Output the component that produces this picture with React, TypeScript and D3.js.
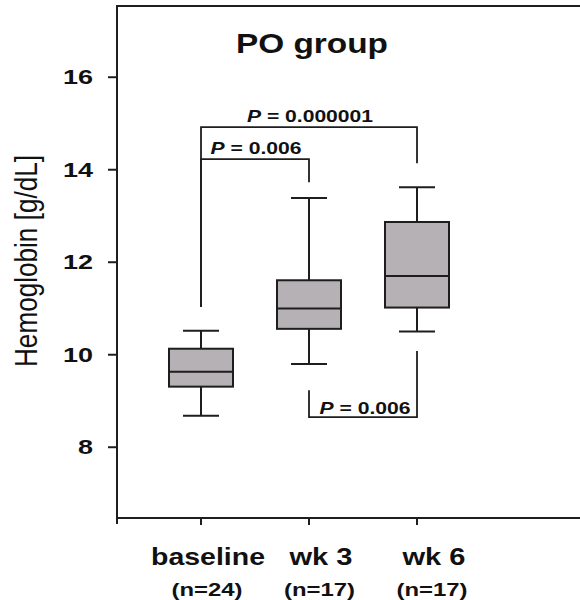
import React, { useRef, useEffect } from "react";
import * as d3 from "d3";

// groups and box stats (g/dL)
const groups = ["baseline", "wk 3", "wk 6"];
const counts = ["(n=24)", "(n=17)", "(n=17)"];
const whiskerLow = [8.68, 9.8, 10.5];
const q1 = [9.31, 10.56, 11.02];
const median = [9.63, 11.0, 11.7];
const q3 = [10.13, 11.61, 12.87];
const whiskerHigh = [10.52, 13.39, 13.62];
const yTicks = [8, 10, 12, 14, 16];

// significance brackets: from group, to group, bar level, end of left leg, end of right leg, p text
const bracketFrom = ["baseline", "baseline", "wk 3"];
const bracketTo = ["wk 6", "wk 3", "wk 6"];
const bracketLevel = [14.92, 14.23, 8.65];
const bracketLeftEnd = [11.03, 11.03, 9.23];
const bracketRightEnd = [14.14, 13.73, 10.08];
const bracketP = ["0.000001", "0.006", "0.006"];

const FONT = "'Liberation Sans', Arial, Helvetica, sans-serif";

function App() {
  const svgRef = useRef(null);

  useEffect(() => {
    const svg = d3.select(svgRef.current);
    svg.selectAll("*").remove();

    const left = 117,
      right = 580,
      top = 6,
      bottom = 518;

    const y = d3.scaleLinear().domain([6.47, 17.54]).range([bottom, top]);
    const x = d3.scalePoint().domain(groups).range([201, 417]);
    const xLabel = d3.scalePoint().domain(groups).range([208, 434]);
    const xCount = d3.scalePoint().domain(groups).range([207, 432]);

    const ink = "#1e1e1e";

    // frame: left axis, top line, bottom axis
    svg
      .append("path")
      .attr("d", `M${right},${top}H${left}V${bottom + 6}M${left},${bottom}H${right}`)
      .attr("fill", "none")
      .attr("stroke", ink)
      .attr("stroke-width", 2);

    // y ticks
    const yg = svg.append("g");
    yg.selectAll("line")
      .data(yTicks)
      .enter()
      .append("line")
      .attr("x1", left - 9)
      .attr("x2", left)
      .attr("y1", (d) => y(d))
      .attr("y2", (d) => y(d))
      .attr("stroke", ink)
      .attr("stroke-width", 2);
    yg.selectAll("text")
      .data(yTicks)
      .enter()
      .append("text")
      .attr("x", 93)
      .attr("y", (d) => y(d))
      .attr("dy", "0.36em")
      .attr("text-anchor", "end")
      .attr("font-family", FONT)
      .attr("font-weight", "bold")
      .attr("font-size", 20)
      .attr("textLength", (d) => String(d).length * 15)
      .attr("lengthAdjust", "spacingAndGlyphs")
      .attr("fill", "#111")
      .text((d) => d);

    // x ticks
    svg
      .append("g")
      .selectAll("line")
      .data(groups)
      .enter()
      .append("line")
      .attr("x1", (d) => x(d))
      .attr("x2", (d) => x(d))
      .attr("y1", bottom)
      .attr("y2", bottom + 7)
      .attr("stroke", ink)
      .attr("stroke-width", 2);

    // x labels
    const labelWidths = [114, 63, 63];
    svg
      .append("g")
      .selectAll("text")
      .data(groups)
      .enter()
      .append("text")
      .attr("x", (d) => xLabel(d))
      .attr("y", 565)
      .attr("text-anchor", "middle")
      .attr("font-family", FONT)
      .attr("font-weight", "bold")
      .attr("font-size", 24)
      .attr("textLength", (d, i) => labelWidths[i])
      .attr("lengthAdjust", "spacingAndGlyphs")
      .attr("fill", "#111")
      .text((d) => d);
    svg
      .append("g")
      .selectAll("text")
      .data(counts)
      .enter()
      .append("text")
      .attr("x", (d, i) => xCount(groups[i]))
      .attr("y", 596)
      .attr("text-anchor", "middle")
      .attr("font-family", FONT)
      .attr("font-weight", "bold")
      .attr("font-size", 18)
      .attr("textLength", 71)
      .attr("lengthAdjust", "spacingAndGlyphs")
      .attr("fill", "#111")
      .text((d) => d);

    // y label
    svg
      .append("text")
      .attr("transform", "translate(37,261) rotate(-90)")
      .attr("text-anchor", "middle")
      .attr("font-family", FONT)
      .attr("font-size", 31)
      .attr("textLength", 212)
      .attr("lengthAdjust", "spacingAndGlyphs")
      .attr("fill", "#111")
      .text("Hemoglobin [g/dL]");

    // title
    svg
      .append("text")
      .attr("x", 312)
      .attr("y", 53)
      .attr("text-anchor", "middle")
      .attr("font-family", FONT)
      .attr("font-weight", "bold")
      .attr("font-size", 28)
      .attr("textLength", 152)
      .attr("lengthAdjust", "spacingAndGlyphs")
      .attr("fill", "#111")
      .text("PO group");

    // boxes
    const boxW = 64,
      capW = 36;
    const boxes = svg
      .append("g")
      .selectAll("g")
      .data(groups)
      .enter()
      .append("g");
    boxes
      .append("line")
      .attr("x1", (d) => x(d))
      .attr("x2", (d) => x(d))
      .attr("y1", (d, i) => y(whiskerLow[i]))
      .attr("y2", (d, i) => y(whiskerHigh[i]))
      .attr("stroke", ink)
      .attr("stroke-width", 2);
    [whiskerLow, whiskerHigh].forEach((arr) => {
      boxes
        .append("line")
        .attr("x1", (d) => x(d) - capW / 2)
        .attr("x2", (d) => x(d) + capW / 2)
        .attr("y1", (d, i) => y(arr[i]))
        .attr("y2", (d, i) => y(arr[i]))
        .attr("stroke", ink)
        .attr("stroke-width", 2);
    });
    boxes
      .append("rect")
      .attr("x", (d) => x(d) - boxW / 2)
      .attr("width", boxW)
      .attr("y", (d, i) => y(q3[i]))
      .attr("height", (d, i) => y(q1[i]) - y(q3[i]))
      .attr("fill", "#b5b1b5")
      .attr("stroke", ink)
      .attr("stroke-width", 2);
    boxes
      .append("line")
      .attr("x1", (d) => x(d) - boxW / 2)
      .attr("x2", (d) => x(d) + boxW / 2)
      .attr("y1", (d, i) => y(median[i]))
      .attr("y2", (d, i) => y(median[i]))
      .attr("stroke", ink)
      .attr("stroke-width", 2);

    // brackets
    const br = svg.append("g");
    bracketP.forEach((p, i) => {
      const x1 = x(bracketFrom[i]),
        x2 = x(bracketTo[i]),
        yl = y(bracketLevel[i]);
      br.append("path")
        .attr(
          "d",
          `M${x1},${y(bracketLeftEnd[i])}V${yl}H${x2}V${y(bracketRightEnd[i])}`
        )
        .attr("fill", "none")
        .attr("stroke", ink)
        .attr("stroke-width", 1.8);
      const inverted = bracketLevel[i] < bracketLeftEnd[i];
      const t = br
        .append("text")
        .attr("x", (x1 + x2) / 2 + (inverted ? 2 : 1))
        .attr("y", inverted ? yl - 3 : yl - 5)
        .attr("text-anchor", "middle")
        .attr("font-family", FONT)
        .attr("font-weight", "bold")
        .attr("font-size", 17)
        .attr("textLength", p.length > 5 ? 126 : 91)
        .attr("lengthAdjust", "spacingAndGlyphs")
        .attr("fill", "#111");
      t.append("tspan").attr("font-style", "italic").text("P");
      t.append("tspan").text(` = ${p}`);
    });
  }, []);

  return (
    <svg
      ref={svgRef}
      width={580}
      height={600}
      style={{ position: "absolute", left: 0, top: 0, background: "#fff" }}
    ></svg>
  );
}

export default App;
